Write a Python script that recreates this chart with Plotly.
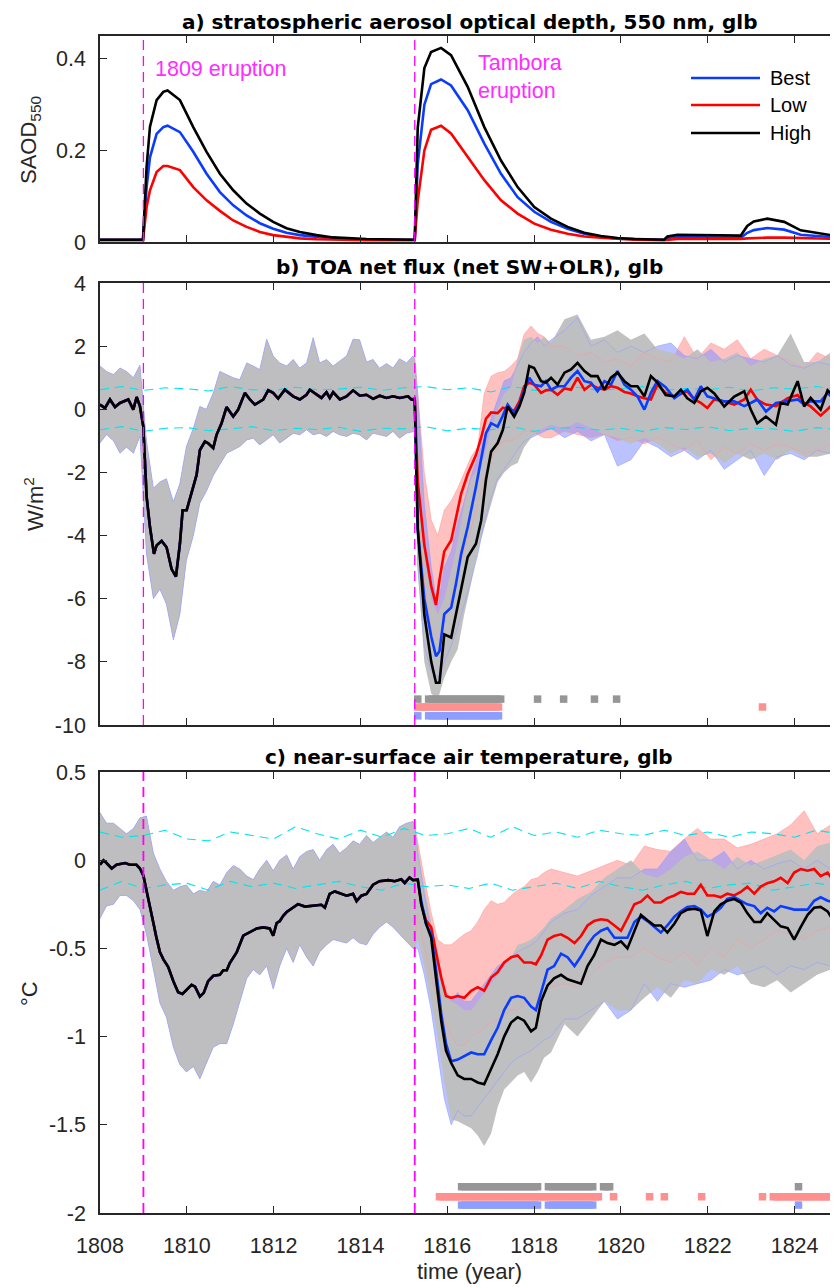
import numpy as np
import plotly.graph_objects as go

# ---------------- data ----------------
x_ticks = [1808, 1810, 1812, 1814, 1816, 1818, 1820, 1822, 1824]
eruption_years = [1809.0, 1815.25]

# panel a: SAOD 550 nm
t_a = [1808.0, 1808.99, 1809.074, 1809.151, 1809.304, 1809.458, 1809.557, 1809.841, 1810.148, 1810.455,
       1810.762, 1811.069, 1811.376, 1811.682, 1811.989, 1812.296, 1812.603, 1812.987, 1813.37, 1814.137,
       1815.21, 1815.25, 1815.319, 1815.472, 1815.626, 1815.856, 1816.086, 1816.47, 1816.853, 1817.237,
       1817.62, 1818.004, 1818.388, 1818.771, 1819.155, 1819.538, 1819.922, 1820.305, 1820.995, 1821.07,
       1821.30, 1822.22, 1822.68, 1822.76, 1822.91, 1823.06, 1823.37, 1823.76, 1824.14, 1824.52, 1825.0]
saod_high = [0.005, 0.005, 0.165, 0.252, 0.310, 0.328, 0.331, 0.310, 0.251, 0.197,
             0.149, 0.113, 0.084, 0.062, 0.044, 0.030, 0.022, 0.015, 0.010, 0.0066,
             0.005, 0.005, 0.25, 0.38, 0.415, 0.424, 0.408, 0.339, 0.251, 0.178,
             0.120, 0.0765, 0.051, 0.033, 0.020, 0.013, 0.0087, 0.0066, 0.005, 0.012,
             0.016, 0.0146, 0.0135, 0.014, 0.035, 0.045, 0.051, 0.044, 0.0255, 0.0197, 0.0124]
saod_best = [0.005, 0.005, 0.120, 0.185, 0.236, 0.251, 0.254, 0.240, 0.197, 0.149,
             0.109, 0.080, 0.058, 0.041, 0.029, 0.020, 0.015, 0.011, 0.008, 0.005,
             0.005, 0.005, 0.17, 0.30, 0.345, 0.355, 0.342, 0.288, 0.215, 0.149,
             0.098, 0.066, 0.044, 0.029, 0.018, 0.011, 0.0073, 0.006, 0.005, 0.009,
             0.011, 0.0095, 0.0085, 0.009, 0.020, 0.026, 0.0306, 0.027, 0.016, 0.0124, 0.0095]
saod_low = [0.004, 0.004, 0.077, 0.113, 0.153, 0.166, 0.166, 0.157, 0.120, 0.091,
            0.068, 0.047, 0.033, 0.022, 0.015, 0.011, 0.008, 0.006, 0.005, 0.004,
            0.004, 0.004, 0.09, 0.20, 0.245, 0.254, 0.237, 0.186, 0.135, 0.091,
            0.062, 0.040, 0.027, 0.018, 0.012, 0.0095, 0.0066, 0.005, 0.004, 0.005,
            0.0066, 0.0066, 0.006, 0.0066, 0.008, 0.009, 0.0095, 0.0095, 0.0087, 0.007, 0.0066]

# panel b: TOA net flux, ensemble means
pre_b_t = [1808.0, 1808.115, 1808.23, 1808.345, 1808.46, 1808.652, 1808.767, 1808.844, 1808.921, 1808.997,
           1809.074, 1809.151, 1809.243, 1809.304, 1809.419, 1809.534, 1809.649, 1809.749, 1809.841, 1809.903,
           1809.995, 1810.11, 1810.225, 1810.302, 1810.417, 1810.493, 1810.608, 1810.685, 1810.8, 1810.915,
           1811.069, 1811.184, 1811.337, 1811.452, 1811.567, 1811.759, 1811.874, 1811.989, 1812.104, 1812.258,
           1812.45, 1812.603, 1812.756, 1812.833, 1812.987, 1813.102, 1813.217, 1813.293, 1813.37, 1813.524,
           1813.677, 1813.83, 1813.984, 1814.137, 1814.291, 1814.444, 1814.598, 1814.751, 1814.905, 1815.096,
           1815.173]
pre_b = [0.15, 0.04, 0.31, 0.07, 0.2, 0.31, -0.01, 0.39, 0.09, -0.54,
         -2.77, -3.73, -4.58, -4.31, -4.17, -4.37, -5.06, -5.3, -4.26, -3.2,
         -3.2, -2.67, -2.08, -1.29, -1.02, -1.08, -1.23, -0.81, -0.44, 0.07,
         -0.23, -0.01, 0.52, 0.31, 0.15, 0.31, 0.6, 0.52, 0.34, 0.62,
         0.41, 0.31, 0.46, 0.62, 0.46, 0.36, 0.54, 0.36, 0.54, 0.31,
         0.41, 0.6, 0.43, 0.46, 0.33, 0.43, 0.36, 0.41, 0.36, 0.41,
         0.31]
post_b_t = [1815.25, 1815.32, 1815.47, 1815.63, 1815.74, 1815.82, 1815.93, 1816.09, 1816.20, 1816.32,
            1816.47, 1816.66, 1816.78, 1816.89, 1817.01, 1817.16, 1817.28, 1817.39, 1817.54, 1817.66,
            1817.77, 1817.89, 1818.00, 1818.16, 1818.27, 1818.39, 1818.54, 1818.70, 1818.85, 1819.00,
            1819.16, 1819.31, 1819.46, 1819.62, 1819.77, 1819.92, 1820.08, 1820.23, 1820.38, 1820.54,
            1820.69, 1820.84, 1821.03, 1821.23, 1821.38, 1821.53, 1821.69, 1821.84, 1821.99, 1822.15,
            1822.38, 1822.61, 1822.84, 1822.99, 1823.14, 1823.34, 1823.57, 1823.68, 1823.84, 1824.07,
            1824.22, 1824.37, 1824.60, 1824.76, 1824.99]
low_b_post = [0.35, -2.3, -4.3, -5.6, -6.2, -5.4, -4.5, -4.15, -3.4, -2.67,
              -2.05, -1.45, -0.9, -0.3, -0.1, -0.12, 0.05, 0.0, -0.05, 0.25,
              0.73, 0.84, 0.78, 0.52, 0.6, 0.62, 0.46, 0.66, 0.62, 1.0,
              0.62, 0.78, 0.68, 0.62, 0.73, 0.68, 0.55, 0.5, 0.41, 0.35,
              0.31, 0.78, 0.52, 0.41, 0.5, 0.57, 0.31, 0.2, 0.04, 0.31,
              0.25, 0.15, 0.31, 0.62, 0.3, 0.15, 0.1, 0.2, 0.35, 0.45,
              0.2, 0.09, -0.2, 0.0, 0.31]
best_b_post = [0.3, -3.8, -6.0, -7.2, -7.82, -7.66, -6.49, -6.28, -5.53, -4.58,
               -3.73, -2.45, -1.61, -0.76, -0.44, -0.55, -0.2, 0.15, -0.12, 0.15,
               0.6, 1.0, 0.78, 0.73, 0.89, 0.62, 0.73, 0.73, 1.0, 1.21,
               0.89, 0.84, 0.57, 0.89, 0.78, 1.21, 0.78, 0.62, 0.41, -0.01,
               0.52, 0.9, 0.7, 0.35, 0.5, 0.62, 0.31, 0.73, 0.41, 0.35,
               0.25, 0.25, 0.1, 0.2, 0.31, -0.07, 0.2, 0.22, 0.25, 0.31,
               0.15, 0.25, 0.25, 0.52, 0.2]
high_b_post = [0.3, -3.8, -6.5, -8.0, -8.66, -8.66, -7.13, -7.23, -6.49, -5.64,
               -4.68, -4.26, -3.52, -2.24, -1.34, -1.07, -0.65, 0.09, -0.23, 0.09,
               0.52, 1.37, 1.31, 0.89, 0.85, 1.0, 0.78, 1.16, 1.26, 1.47,
               1.21, 1.05, 1.05, 0.62, 1.0, 1.16, 0.89, 0.73, 0.73, 0.41,
               1.05, 0.85, 0.45, 0.41, 0.62, 0.35, 0.2, 0.57, 0.68, 0.5,
               0.09, 0.4, 0.57, -0.01, -0.44, -0.23, -0.49, 0.2, 0.15, 0.89,
               0.09, 0.36, -0.01, 0.6, 0.31]

# ensemble spread envelopes (shared before Tambora)
pre_band_t = [1808.00, 1808.15, 1808.31, 1808.46, 1808.61, 1808.77, 1808.92, 1809.07, 1809.23, 1809.38,
              1809.53, 1809.69, 1809.84, 1809.99, 1810.15, 1810.30, 1810.45, 1810.61, 1810.76, 1810.92,
              1811.07, 1811.22, 1811.38, 1811.53, 1811.68, 1811.84, 1811.99, 1812.14, 1812.30, 1812.45,
              1812.60, 1812.76, 1812.91, 1813.06, 1813.22, 1813.37, 1813.52, 1813.68, 1813.83, 1813.98,
              1814.14, 1814.29, 1814.44, 1814.60, 1814.75, 1814.90, 1815.06, 1815.21]
pre_b_up = [1.37, 1.2, 1.1, 1.31, 1.2, 1.0, 1.4, -1.0, -2.5, -2.3,
            -2.2, -2.93, -2.35, -1.18, -0.6, 0.09, 0.0, 0.52, 1.2, 1.1,
            1.0, 0.94, 1.47, 1.37, 1.26, 2.22, 1.69, 1.47, 1.37, 1.58,
            1.31, 1.47, 2.27, 1.47, 1.58, 1.37, 1.53, 1.69, 2.22, 2.2,
            1.5, 1.58, 1.3, 1.45, 1.31, 1.6, 1.47, 1.69]
pre_b_lo = [-1.07, -0.8, -1.0, -1.39, -1.2, -1.39, -0.85, -4.58, -6.0, -5.7,
            -6.17, -7.3, -6.49, -4.79, -4.0, -2.98, -2.6, -2.1, -1.75, -1.39,
            -1.29, -1.18, -0.97, -0.92, -1.13, -0.97, -0.81, -1.07, -0.92, -0.76,
            -0.81, -0.65, -0.81, -0.76, -0.86, -0.70, -0.81, -0.86, -0.76, -0.81,
            -0.97, -0.76, -0.81, -0.86, -0.70, -0.92, -0.76, -0.7]
post_band_t = [1815.25, 1815.32, 1815.47, 1815.63, 1815.78, 1815.93, 1816.09, 1816.24, 1816.39, 1816.55,
               1816.70, 1816.85, 1817.01, 1817.16, 1817.31, 1817.47, 1817.62, 1817.77, 1817.93, 1818.08,
               1818.23, 1818.39, 1818.70, 1819.00, 1819.31, 1819.62, 1819.92, 1820.23, 1820.54, 1820.84,
               1821.15, 1821.46, 1821.76, 1822.07, 1822.38, 1822.68, 1822.99, 1823.30, 1823.60, 1823.91,
               1824.22, 1824.52, 1824.83, 1824.99]
high_b_up = [1.6, -1.0, -4.5, -6.0, -6.5, -6.0, -5.1, -4.2, -3.0, -2.2, -1.9, -1.5, -0.6, 0.0, 0.5, 0.7,
             1.6, 2.2, 2.3, 2.1, 2.3, 2.1, 2.85, 3.0, 2.2, 2.3, 2.5, 2.2, 2.4, 1.9, 1.8, 1.6, 1.9, 1.5,
             1.6, 1.8, 1.37, 1.6, 1.7, 2.4, 1.5, 1.5, 1.8, 1.7]
high_b_lo = [-0.7, -5.0, -8.0, -9.0, -9.2, -8.5, -8.0, -7.6, -6.5, -5.5, -4.5, -3.8, -3.0, -2.3, -2.0, -1.8,
             -1.7, -1.2, -0.9, -0.7, -0.6, -0.5, -0.6, -0.4, -0.6, -0.8, -0.9, -1.1, -0.9, -1.1, -1.4, -1.2,
             -1.5, -1.4, -1.7, -1.4, -1.6, -1.4, -1.6, -1.3, -1.5, -1.5, -1.4, -1.4]
low_b_up = [1.6, 0.5, -2.0, -3.5, -4.0, -3.2, -2.9, -2.5, -2.0, -1.5, -1.2, 0.5, 1.05, 1.16, 1.2, 1.37,
            1.6, 2.38, 2.64, 2.4, 2.3, 2.0, 2.0, 1.7, 1.8, 1.5, 1.6, 1.37, 1.8, 1.6, 1.5, 2.3, 1.6, 2.1,
            1.9, 2.2, 1.6, 1.9, 1.7, 1.5, 1.3, 1.8, 1.6, 1.5]
low_b_lo = [-0.7, -3.0, -5.5, -7.0, -7.3, -6.8, -6.0, -5.2, -4.5, -3.8, -3.0, -2.2, -1.6, -1.2, -1.0, -1.0,
            -0.9, -0.7, -0.7, -0.8, -0.9, -0.9, -0.7, -0.8, -0.9, -0.8, -1.0, -0.9, -1.1, -0.9, -1.1, -1.3,
            -1.0, -1.6, -1.2, -1.4, -1.1, -1.3, -1.1, -1.2, -1.4, -1.3, -1.1, -1.2]
best_b_up = [1.6, 0.5, -3.0, -5.0, -6.3, -5.0, -4.5, -3.6, -2.9, -2.1, -1.5, -0.9, -0.3, 0.3, 0.9, 1.0,
             1.4, 1.8, 2.1, 2.3, 2.0, 2.2, 2.5, 2.9, 2.0, 2.2, 1.8, 2.0, 1.8, 2.0, 2.1, 1.7, 1.6, 1.9,
             1.5, 1.7, 1.6, 1.5, 1.7, 1.4, 1.3, 1.5, 1.4, 1.5]
best_b_lo = [-0.7, -5.0, -7.5, -8.3, -8.5, -8.0, -7.5, -6.9, -6.2, -5.4, -4.6, -3.6, -2.8, -2.2, -1.9, -1.6,
             -1.3, -1.0, -0.9, -0.8, -0.7, -0.6, -0.9, -0.7, -1.0, -0.8, -1.8, -1.6, -1.0, -1.2, -1.5, -1.3,
             -1.6, -1.3, -1.9, -1.6, -1.3, -2.1, -1.5, -1.4, -1.6, -1.3, -1.4, -1.3]

# control-run variability limits (cyan)
cyan_t = [1808.0 + 0.5 * i for i in range(35)]
cyan_b_up = [0.62, 0.72, 0.6, 0.68, 0.65, 0.58, 0.72, 0.62, 0.6, 0.7, 0.62, 0.64, 0.7, 0.6, 0.68, 0.72, 0.62,
             0.68, 0.55, 0.72, 0.6, 0.62, 0.7, 0.6, 0.65, 0.72, 0.6, 0.66, 0.62, 0.7, 0.58, 0.68, 0.64, 0.72, 0.62]
cyan_b_lo = [-0.65, -0.55, -0.7, -0.6, -0.58, -0.68, -0.62, -0.55, -0.68, -0.6, -0.64, -0.57, -0.7, -0.6,
             -0.62, -0.55, -0.68, -0.6, -0.65, -0.55, -0.7, -0.6, -0.57, -0.66, -0.6, -0.7, -0.58, -0.64,
             -0.55, -0.68, -0.6, -0.62, -0.7, -0.58, -0.64]
cyan_c_up = [0.16, 0.13, 0.14, 0.17, 0.12, 0.11, 0.16, 0.14, 0.12, 0.19, 0.15, 0.12, 0.17, 0.13, 0.18, 0.14,
             0.15, 0.18, 0.13, 0.19, 0.14, 0.16, 0.13, 0.17, 0.15, 0.14, 0.17, 0.14, 0.16, 0.13, 0.16, 0.15,
             0.13, 0.17, 0.15]
cyan_c_lo = [-0.17, -0.12, -0.16, -0.14, -0.13, -0.17, -0.12, -0.15, -0.13, -0.16, -0.14, -0.12, -0.15,
             -0.17, -0.13, -0.15, -0.14, -0.16, -0.13, -0.17, -0.15, -0.13, -0.16, -0.12, -0.15, -0.17, -0.14,
             -0.12, -0.16, -0.14, -0.13, -0.17, -0.15, -0.13, -0.15]

# panel c: near-surface air temperature
pre_c_t = [1808.00, 1808.08, 1808.15, 1808.27, 1808.38, 1808.58, 1808.69, 1808.84, 1808.92, 1809.00,
           1809.07, 1809.15, 1809.23, 1809.30, 1809.38, 1809.46, 1809.57, 1809.69, 1809.80, 1809.90,
           1809.99, 1810.11, 1810.19, 1810.30, 1810.39, 1810.49, 1810.61, 1810.76, 1810.84, 1810.92,
           1810.99, 1811.15, 1811.30, 1811.45, 1811.61, 1811.76, 1811.91, 1811.99, 1812.07, 1812.14,
           1812.22, 1812.30, 1812.41, 1812.56, 1812.72, 1812.91, 1813.10, 1813.18, 1813.29, 1813.41,
           1813.52, 1813.68, 1813.83, 1813.91, 1814.02, 1814.14, 1814.29, 1814.44, 1814.64, 1814.79,
           1814.94, 1815.02, 1815.13, 1815.21]
pre_c = [-0.026, -0.001, -0.016, -0.047, -0.026, -0.016, -0.026, -0.026, -0.047, -0.088,
         -0.17, -0.274, -0.356, -0.439, -0.521, -0.562, -0.604, -0.686, -0.748, -0.758,
         -0.738, -0.707, -0.717, -0.773, -0.752, -0.686, -0.655, -0.649, -0.624, -0.624,
         -0.583, -0.521, -0.428, -0.408, -0.387, -0.381, -0.387, -0.428, -0.356, -0.346,
         -0.315, -0.294, -0.274, -0.249, -0.263, -0.257, -0.253, -0.269, -0.191, -0.177,
         -0.185, -0.201, -0.191, -0.232, -0.201, -0.191, -0.139, -0.119, -0.113, -0.119,
         -0.108, -0.129, -0.098, -0.113]
post_c_t = [1815.32, 1815.40, 1815.51, 1815.63, 1815.74, 1815.86, 1815.97, 1816.09, 1816.24, 1816.39,
            1816.55, 1816.70, 1816.85, 1817.01, 1817.16, 1817.31, 1817.47, 1817.62, 1817.77, 1817.93,
            1818.04, 1818.16, 1818.31, 1818.46, 1818.62, 1818.77, 1818.93, 1819.08, 1819.23, 1819.38,
            1819.54, 1819.69, 1819.85, 1820.00, 1820.15, 1820.31, 1820.46, 1820.61, 1820.77, 1820.92,
            1821.07, 1821.23, 1821.38, 1821.53, 1821.69, 1821.84, 1821.99, 1822.15, 1822.30, 1822.45,
            1822.61, 1822.76, 1822.91, 1823.07, 1823.22, 1823.37, 1823.53, 1823.68, 1823.84, 1823.99,
            1824.14, 1824.30, 1824.45, 1824.60, 1824.76, 1824.91, 1824.99]
low_c_post = [-0.11, -0.25, -0.34, -0.38, -0.52, -0.665, -0.77, -0.78, -0.77, -0.78,
              -0.74, -0.72, -0.74, -0.665, -0.635, -0.58, -0.55, -0.54, -0.58, -0.58,
              -0.59, -0.54, -0.45, -0.43, -0.42, -0.44, -0.47, -0.43, -0.37, -0.345,
              -0.335, -0.34, -0.37, -0.40, -0.33, -0.25, -0.235, -0.20, -0.24, -0.24,
              -0.215, -0.20, -0.18, -0.19, -0.19, -0.14, -0.20, -0.20, -0.21, -0.19,
              -0.20, -0.18, -0.15, -0.19, -0.15, -0.13, -0.12, -0.10, -0.13, -0.07,
              -0.05, -0.06, -0.05, -0.09, -0.07, -0.12, -0.15]
best_c_post = [-0.11, -0.23, -0.36, -0.42, -0.62, -0.87, -1.04, -1.14, -1.13, -1.11,
               -1.09, -1.10, -1.10, -1.02, -0.95, -0.85, -0.78, -0.77, -0.78, -0.83,
               -0.85, -0.75, -0.62, -0.60, -0.53, -0.55, -0.60, -0.545, -0.48, -0.43,
               -0.40, -0.385, -0.44, -0.44, -0.44, -0.35, -0.32, -0.345, -0.38, -0.41,
               -0.37, -0.32, -0.29, -0.265, -0.26, -0.28, -0.32, -0.30, -0.27, -0.22,
               -0.21, -0.23, -0.25, -0.26, -0.30, -0.27, -0.29, -0.26, -0.27, -0.28,
               -0.28, -0.28, -0.23, -0.21, -0.23, -0.24, -0.36]
high_c_post = [-0.11, -0.25, -0.36, -0.44, -0.67, -0.91, -1.08, -1.15, -1.22, -1.24,
               -1.24, -1.26, -1.27, -1.18, -1.10, -1.00, -0.92, -0.89, -0.91, -0.97,
               -0.95, -0.80, -0.71, -0.67, -0.65, -0.675, -0.69, -0.70, -0.60, -0.54,
               -0.45, -0.47, -0.48, -0.46, -0.50, -0.40, -0.31, -0.34, -0.37, -0.37,
               -0.41, -0.36, -0.30, -0.28, -0.275, -0.285, -0.43, -0.29, -0.25, -0.23,
               -0.22, -0.24, -0.30, -0.35, -0.35, -0.30, -0.34, -0.375, -0.385, -0.45,
               -0.38, -0.31, -0.27, -0.265, -0.29, -0.35, -0.38]
pre_c_up = [0.27, 0.21, 0.21, 0.18, 0.15, 0.18, 0.24, 0.25, 0.04, -0.05,
            -0.12, -0.17, -0.15, -0.14, -0.19, -0.17, -0.18, -0.12, -0.14, -0.07,
            -0.03, -0.05, -0.09, -0.11, -0.05, 0.0, -0.06, 0.0, 0.03, -0.05,
            0.02, 0.05, 0.06, 0.0, 0.06, 0.09, 0.04, 0.07, 0.11, 0.09,
            0.14, 0.1, 0.13, 0.16, 0.13, 0.19, 0.21, 0.22]
pre_c_lo = [-0.33, -0.26, -0.25, -0.2, -0.2, -0.23, -0.28, -0.42, -0.62, -0.81,
            -0.89, -1.06, -1.16, -1.2, -1.17, -1.24, -1.15, -1.06, -1.04, -1.04,
            -0.93, -0.81, -0.67, -0.62, -0.65, -0.6, -0.73, -0.6, -0.5, -0.58,
            -0.48, -0.55, -0.6, -0.52, -0.48, -0.45, -0.46, -0.47, -0.44, -0.47,
            -0.48, -0.42, -0.38, -0.35, -0.38, -0.42, -0.46, -0.5]
high_c_up = [0.2, 0.05, -0.15, -0.35, -0.55, -0.7, -0.8, -0.82, -0.85, -0.85, -0.8, -0.75, -0.7, -0.65,
             -0.6, -0.55, -0.48, -0.47, -0.45, -0.42, -0.38, -0.33, -0.28, -0.22, -0.18, -0.1, -0.05, 0.0,
             -0.08, -0.1, -0.05, 0.02, 0.05, 0.0, -0.05, 0.02, -0.03, 0.0, 0.03, 0.06, 0.0, 0.08, 0.1, 0.12]
high_c_lo = [-0.5, -0.45, -0.6, -0.8, -1.0, -1.25, -1.47, -1.48, -1.5, -1.52, -1.56, -1.62, -1.55, -1.4,
             -1.3, -1.26, -1.22, -1.2, -1.26, -1.2, -1.12, -1.09, -0.93, -1.0, -0.9, -0.8, -0.85, -0.85,
             -0.78, -0.72, -0.78, -0.68, -0.7, -0.62, -0.65, -0.6, -0.7, -0.72, -0.68, -0.75, -0.7, -0.65,
             -0.62, -0.64]
low_c_up = [0.2, 0.1, -0.1, -0.3, -0.45, -0.48, -0.48, -0.45, -0.42, -0.4, -0.35, -0.28, -0.23, -0.25,
            -0.24, -0.2, -0.17, -0.15, -0.11, -0.1, -0.07, -0.05, -0.07, -0.09, -0.06, -0.03, 0.0, -0.03,
            0.08, 0.06, 0.05, 0.12, 0.18, 0.12, 0.12, 0.07, 0.09, 0.12, 0.15, 0.2, 0.28, 0.15, 0.2, 0.22]
low_c_lo = [-0.5, -0.3, -0.5, -0.65, -0.8, -0.9, -1.0, -1.05, -1.05, -1.0, -0.98, -0.95, -0.92, -0.9,
            -0.88, -0.85, -0.85, -0.82, -0.8, -0.78, -0.75, -0.72, -0.7, -0.72, -0.65, -0.58, -0.55, -0.55,
            -0.5, -0.55, -0.58, -0.52, -0.6, -0.5, -0.55, -0.45, -0.5, -0.45, -0.4, -0.42, -0.45, -0.4,
            -0.38, -0.4]
best_c_up = [0.2, 0.05, -0.2, -0.4, -0.6, -0.75, -0.8, -0.75, -0.8, -0.8, -0.75, -0.7, -0.65, -0.6,
             -0.58, -0.55, -0.52, -0.5, -0.48, -0.45, -0.4, -0.35, -0.3, -0.28, -0.2, -0.15, -0.1, -0.1,
             -0.05, -0.05, 0.05, 0.12, 0.0, 0.0, 0.05, -0.05, 0.0, -0.05, -0.02, 0.0, -0.05, 0.0, -0.05, -0.05]
best_c_lo = [-0.5, -0.5, -0.65, -0.85, -1.1, -1.35, -1.5, -1.42, -1.45, -1.45, -1.4, -1.35, -1.3, -1.25,
             -1.2, -1.15, -1.12, -1.1, -1.08, -1.05, -1.02, -1.0, -0.9, -0.9, -0.85, -0.8, -0.9, -0.85,
             -0.7, -0.8, -0.7, -0.72, -0.7, -0.68, -0.62, -0.65, -0.63, -0.6, -0.65, -0.6, -0.62, -0.58,
             -0.6, -0.6]

# months with significant anomalies: (first month, last month) in decimal years
sig_b = {
    "high": [(1815.32, 1815.32), (1815.57, 1817.23), (1818.08, 1818.08), (1818.68, 1818.68),
             (1819.39, 1819.39), (1819.90, 1819.90)],
    "low": [(1815.32, 1817.18), (1823.26, 1823.26)],
    "best": [(1815.32, 1815.32), (1815.57, 1817.18)],
}
sig_c = {
    "high": [(1816.33, 1818.08), (1818.33, 1819.35), (1819.60, 1819.74), (1824.09, 1824.09)],
    "low": [(1815.82, 1819.48), (1819.83, 1819.83), (1820.66, 1820.66), (1821.00, 1821.00),
            (1821.86, 1821.86), (1823.26, 1823.26), (1823.51, 1824.96)],
    "best": [(1816.33, 1818.08), (1818.33, 1819.35), (1824.09, 1824.09)],
}

# ---------------- styling ----------------
C_BEST = "rgb(10,60,255)"
C_LOW = "rgb(255,0,0)"
C_HIGH = "rgb(0,0,0)"
F_LOW = "rgba(255,140,140,0.55)"
F_BEST = "rgba(130,145,255,0.55)"
F_HIGH = "rgba(190,190,190,0.96)"
E_LOW = "rgba(255,150,150,0.6)"
E_BEST = "rgba(150,160,255,0.7)"
AX = "#262626"
MAG = "#FF00FF"
CYAN = "#00E5EE"
FONT = "Liberation Sans"

fig = go.Figure()


def band(t, up, lo, color, xa, ya):
    fig.add_trace(go.Scatter(x=list(t) + list(t)[::-1], y=list(up) + list(lo)[::-1], fill="toself",
                             fillcolor=color, line=dict(width=0), mode="lines", hoverinfo="skip",
                             showlegend=False, xaxis=xa, yaxis=ya))


def edge(t, v, color, xa, ya):
    fig.add_trace(go.Scatter(x=t, y=v, mode="lines", line=dict(color=color, width=0.9),
                             hoverinfo="skip", showlegend=False, xaxis=xa, yaxis=ya))


def line(t, v, color, xa, ya, name=None):
    fig.add_trace(go.Scatter(x=t, y=v, mode="lines", line=dict(color=color, width=2.6),
                             name=name, showlegend=False, xaxis=xa, yaxis=ya))


def sig_markers(segs, level, color, xa, ya):
    xs = []
    for a, b in segs:
        n = int(round((b - a) * 12)) + 1
        xs.extend(np.linspace(a, b, n).tolist())
    fig.add_trace(go.Scatter(x=xs, y=[level] * len(xs), mode="markers",
                             marker=dict(symbol="square", size=7.5, color=color, line=dict(width=0)),
                             hoverinfo="skip", showlegend=False, xaxis=xa, yaxis=ya))


# panel a
line(t_a, saod_best, C_BEST, "x", "y", "Best")
line(t_a, saod_low, C_LOW, "x", "y", "Low")
line(t_a, saod_high, C_HIGH, "x", "y", "High")

# panels b and c
panels = [
    ("x2", "y2", pre_b_up, pre_b_lo,
     (low_b_up, low_b_lo), (best_b_up, best_b_lo), (high_b_up, high_b_lo),
     pre_b_t, pre_b, post_b_t, low_b_post, best_b_post, high_b_post,
     cyan_b_up, cyan_b_lo, sig_b, (-9.18, -9.43, -9.71)),
    ("x3", "y3", pre_c_up, pre_c_lo,
     (low_c_up, low_c_lo), (best_c_up, best_c_lo), (high_c_up, high_c_lo),
     pre_c_t, pre_c, post_c_t, low_c_post, best_c_post, high_c_post,
     cyan_c_up, cyan_c_lo, sig_c, (-1.851, -1.908, -1.955)),
]
for (xa, ya, pu, pl, lowb, bestb, highb, pt, pv, qt, lowv, bestv, highv,
     cu, cl, sig, levels) in panels:
    bt = pre_band_t + post_band_t
    band(bt, pu + lowb[0], pl + lowb[1], F_LOW, xa, ya)
    band(bt, pu + bestb[0], pl + bestb[1], F_BEST, xa, ya)
    band(bt, pu + highb[0], pl + highb[1], F_HIGH, xa, ya)
    edge(bt, pu + bestb[0], E_BEST, xa, ya)
    edge(bt, pl + bestb[1], E_BEST, xa, ya)
    edge(post_band_t, lowb[0], E_LOW, xa, ya)
    edge(post_band_t, lowb[1], E_LOW, xa, ya)
    for cv in (cu, cl):
        fig.add_trace(go.Scatter(x=cyan_t, y=cv, mode="lines",
                                 line=dict(color=CYAN, width=1.1, dash="9px,6px"),
                                 hoverinfo="skip", showlegend=False, xaxis=xa, yaxis=ya))
    line(pt + qt, pv + lowv, C_LOW, xa, ya)
    line(pt + qt, pv + bestv, C_BEST, xa, ya)
    line(pt + qt, pv + highv, C_HIGH, xa, ya)
    sig_markers(sig["high"], levels[0], "#969696", xa, ya)
    sig_markers(sig["low"], levels[1], "#FF9090", xa, ya)
    sig_markers(sig["best"], levels[2], "#8C9EFF", xa, ya)

# eruption markers
for i, (xa, ya) in enumerate([("x", "y"), ("x2", "y2"), ("x3", "y3")]):
    for e in eruption_years:
        fig.add_shape(type="line", x0=e, x1=e, y0=0, y1=1, xref=xa, yref=ya + " domain",
                      line=dict(color=MAG, width=1.3 if i < 2 else 1.8, dash="10px,6px"))

# page body has an 8 px margin: the figure is drawn 8 px smaller and offset
OFF = 8
FIG_W, FIG_H = 838 - OFF, 1287 - OFF
PLOT_L = 100 - OFF
PLOT_W = FIG_W - PLOT_L


def py(px):
    return 1 - (px - OFF) / FIG_H


def pxx(px):
    return (px - 100) / PLOT_W


tickfont = dict(family=FONT, size=21.5, color=AX)
common_x = dict(range=[1808, 1825], tickvals=x_ticks, ticks="inside", ticklen=7, tickwidth=1.3,
                tickcolor=AX, showline=True, linecolor=AX, linewidth=1.5, mirror="ticks",
                showgrid=False, zeroline=False, domain=[0, 1], tickfont=tickfont, ticklabelstandoff=12,
                automargin=False)
common_y = dict(ticks="inside", ticklen=7, tickwidth=1.3, tickcolor=AX, showline=True, linecolor=AX,
                linewidth=1.5, mirror="ticks", showgrid=False, zeroline=False, tickfont=tickfont,
                ticklabelstandoff=8, automargin=False)

fig.update_layout(
    template="none",
    width=FIG_W, height=FIG_H, margin=dict(l=PLOT_L, r=0, t=0, b=0, pad=0, autoexpand=False),
    paper_bgcolor="white", plot_bgcolor="white", showlegend=False,
    xaxis=dict(common_x, anchor="y", showticklabels=False),
    xaxis2=dict(common_x, anchor="y2", showticklabels=False),
    xaxis3=dict(common_x, anchor="y3", showticklabels=True),
    yaxis=dict(common_y, anchor="x", domain=[py(242), py(36)], range=[0, 0.45],
               tickvals=[0, 0.2, 0.4], ticktext=["0", "0.2", "0.4"]),
    yaxis2=dict(common_y, anchor="x2", domain=[py(725), py(283)], range=[-10, 4],
                tickvals=[-10, -8, -6, -4, -2, 0, 2, 4],
                ticktext=["-10", "-8", "-6", "-4", "-2", "0", "2", "4"]),
    yaxis3=dict(common_y, anchor="x3", domain=[py(1213), py(772)], range=[-2, 0.5],
                tickvals=[-2, -1.5, -1, -0.5, 0, 0.5],
                ticktext=["-2", "-1.5", "-1", "-0.5", "0", "0.5"]),
)

titles = [("a) stratospheric aerosol optical depth, 550 nm, glb", 22),
          ("b) TOA net flux (net SW+OLR), glb", 267),
          ("c) near-surface air temperature, glb", 757)]
for txt, ypx in titles:
    fig.add_annotation(text="<b>" + txt + "</b>", x=0.5, y=py(ypx), xref="paper", yref="paper",
                       showarrow=False, xanchor="center", yanchor="middle",
                       font=dict(family="DejaVu Sans", size=20, color="black"))

ylabels = [("SAOD<sub>550</sub>", 30, 140), ("W/m<sup>2</sup>", 34, 504), ("°C", 29, 994)]
for txt, xpx, ypx in ylabels:
    fig.add_annotation(text=txt, x=pxx(xpx), y=py(ypx), xref="paper", yref="paper", showarrow=False,
                       textangle=-90, xanchor="center", yanchor="middle",
                       font=dict(family=FONT, size=22, color=AX))
fig.add_annotation(text="time (year)", x=0.5, y=py(1271), xref="paper", yref="paper", showarrow=False,
                   xanchor="center", yanchor="middle", font=dict(family=FONT, size=22, color=AX))

# eruption labels
fig.add_annotation(text="1809 eruption", x=1809.22, y=0.378, xref="x", yref="y", showarrow=False,
                   xanchor="left", yanchor="middle", font=dict(family=FONT, size=21.5, color="#FF2BFF"))
fig.add_annotation(text="Tambora<br>eruption", x=1816.65, y=0.361, xref="x", yref="y", showarrow=False,
                   xanchor="left", yanchor="middle", align="left",
                   font=dict(family=FONT, size=21.5, color="#FF2BFF"))

# legend (panel a)
for name, color, ypx in [("Best", C_BEST, 78), ("Low", C_LOW, 105), ("High", C_HIGH, 133)]:
    fig.add_shape(type="line", x0=pxx(691), x1=pxx(760), y0=py(ypx), y1=py(ypx), xref="paper",
                  yref="paper", line=dict(color=color, width=2.6))
    fig.add_annotation(text=name, x=pxx(768), y=py(ypx), xref="paper", yref="paper", showarrow=False,
                       xanchor="left", yanchor="middle", font=dict(family=FONT, size=20, color="black"))

fig.write_html("out.html")
